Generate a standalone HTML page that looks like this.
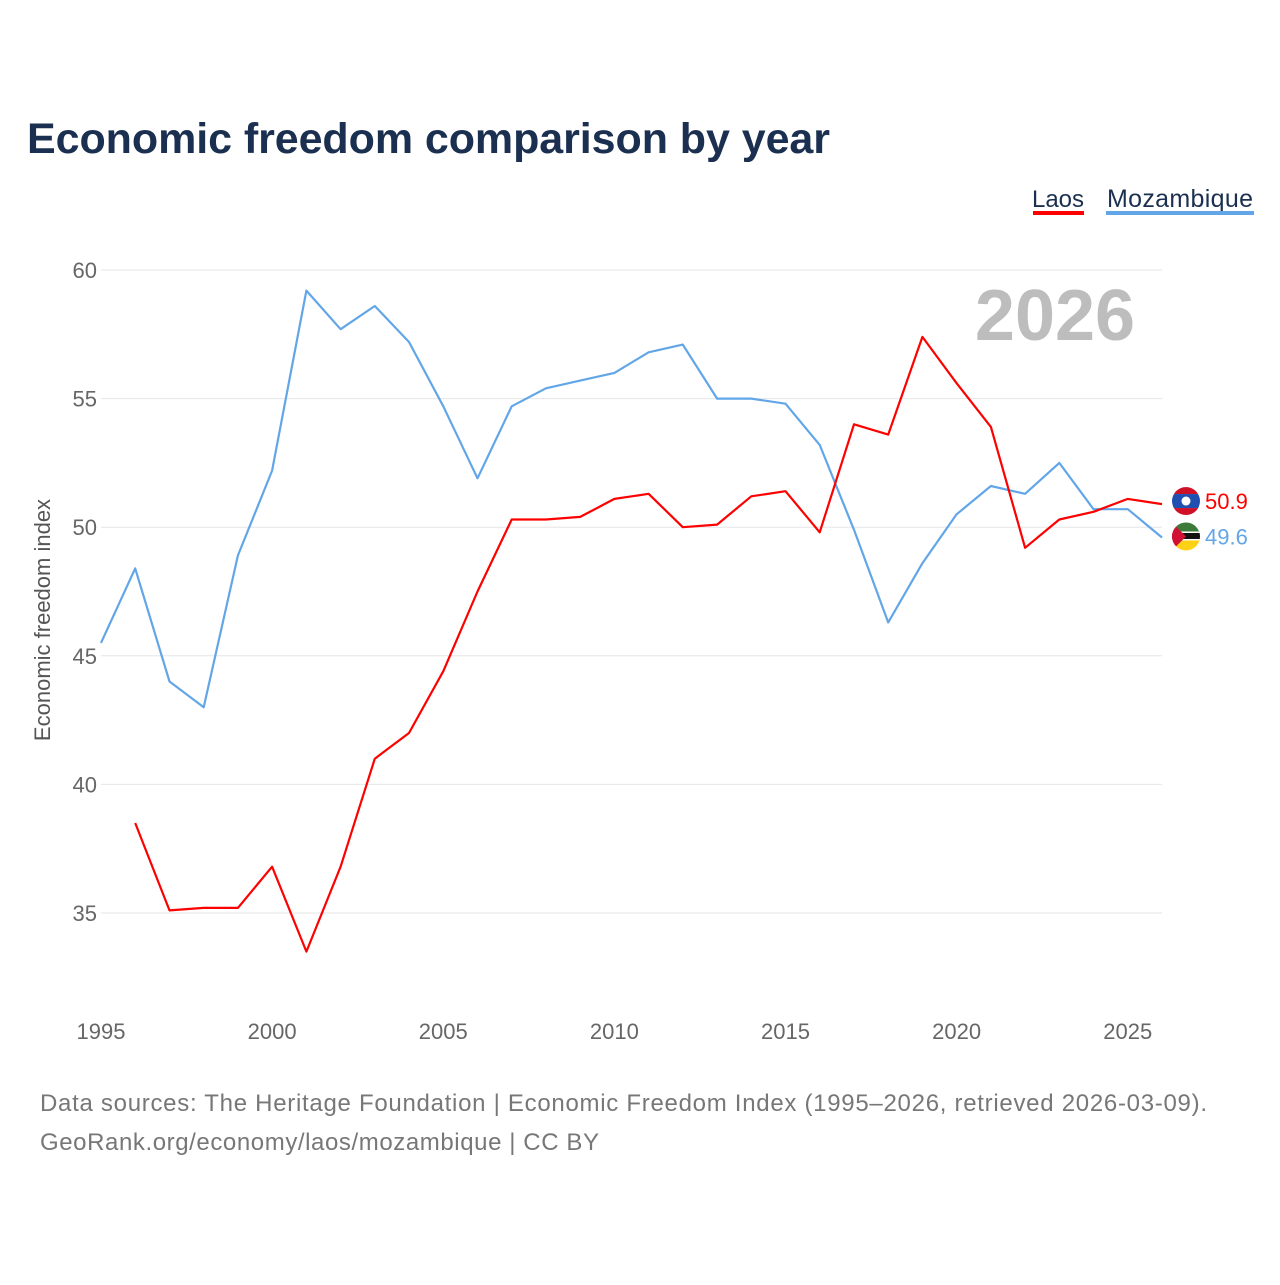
<!DOCTYPE html>
<html><head><meta charset="utf-8">
<style>
body{margin:0;background:#fff;font-family:"Liberation Sans",sans-serif;}
svg text{font-family:"Liberation Sans",sans-serif;}
</style></head>
<body>
<svg id="chart" width="1280" height="1280" viewBox="0 0 1280 1280">
<defs>
<clipPath id="c1"><circle cx="1186" cy="0" r="14"/></clipPath>
</defs>
<text x="27" y="153" font-size="43" font-weight="bold" fill="#1b3050" textLength="803">Economic freedom comparison by year</text>
<g>
<text x="1058" y="207" font-size="24" fill="#1b3050" text-anchor="middle">Laos</text>
<rect x="1033" y="211" width="51" height="4" fill="#ff0000"/>
<text x="1180" y="207" font-size="25" fill="#1b3050" text-anchor="middle" textLength="146">Mozambique</text>
<rect x="1106" y="211" width="148" height="4" fill="#62a6e8"/>
</g>
<text x="1055" y="340" font-size="72" font-weight="bold" fill="#bdbdbd" text-anchor="middle">2026</text>
<text transform="translate(50,620) rotate(-90)" font-size="22" fill="#555" text-anchor="middle">Economic freedom index</text>
<g id="grid"></g><g id="lines"></g><g id="labels"></g>
<text x="40" y="1111" font-size="24" fill="#777" textLength="1167">Data sources: The Heritage Foundation | Economic Freedom Index (1995–2026, retrieved 2026-03-09).</text>
<text x="40" y="1150" font-size="24" fill="#777" textLength="559">GeoRank.org/economy/laos/mozambique | CC BY</text>
</svg>
<script>
const years=[1995,1996,1997,1998,1999,2000,2001,2002,2003,2004,2005,2006,2007,2008,2009,2010,2011,2012,2013,2014,2015,2016,2017,2018,2019,2020,2021,2022,2023,2024,2025,2026];
const laos=[null,38.5,35.1,35.2,35.2,36.8,33.5,36.8,41.0,42.0,44.4,47.5,50.3,50.3,50.4,51.1,51.3,50.0,50.1,51.2,51.4,49.8,54.0,53.6,57.4,55.6,53.9,49.2,50.3,50.6,51.1,50.9];
const mozambique=[45.5,48.4,44.0,43.0,48.9,52.2,59.2,57.7,58.6,57.2,54.7,51.9,54.7,55.4,55.7,56.0,56.8,57.1,55.0,55.0,54.8,53.2,49.9,46.3,48.6,50.5,51.6,51.3,52.5,50.7,50.7,49.6];
const yTicks=[35,40,45,50,55,60];
const xTicks=[1995,2000,2005,2010,2015,2020,2025];
const NS="http://www.w3.org/2000/svg";
const xS=y=>101+(y-1995)*(1162-101)/31;
const yS=v=>270+(60-v)*(913-270)/25;
function mk(t,a,p){const e=document.createElementNS(NS,t);for(const k in a)e.setAttribute(k,a[k]);p.appendChild(e);return e;}
const grid=document.getElementById('grid');
yTicks.forEach(v=>{
 const l=mk('line',{x1:101,x2:1162,y1:yS(v),y2:yS(v),stroke:'#e6e6e6','stroke-width':1},grid);
 
 
 const t=mk('text',{x:97,y:yS(v)+8,'font-size':22,fill:'#666','text-anchor':'end'},grid);t.textContent=v;
 
 
});
xTicks.forEach(y=>{
 const t=mk('text',{x:xS(y),y:1039,'font-size':22,fill:'#666','text-anchor':'middle'},grid);t.textContent=y;
 
 
});
const lines=document.getElementById('lines');
function draw(vals,color,name){
 let d='';let pen=false;
 vals.forEach((v,i)=>{if(v==null){pen=false;return;}d+=(pen?'L':'M')+xS(years[i]).toFixed(1)+','+yS(v).toFixed(1);pen=true;});
 const p=mk('path',{d:d,fill:'none',stroke:color,'stroke-width':2.2,'stroke-linejoin':'round'},lines);
 
 
}
draw(mozambique,'#62a6e8','mozambique');
draw(laos,'#ff0000','laos');
const lab=document.getElementById('labels');
function endLabel(vals,color,name,dy,stripes,extra){
 const v=vals[vals.length-1];const y=yS(v)+dy;
 const g=mk('g',{transform:'translate(0,'+y+')','clip-path':'url(#c1)'},lab);
 
 
 stripes.forEach(s=>mk('rect',{x:1172,y:s[0],width:28,height:s[1],fill:s[2]},g));
 extra(g);
 const t=mk('text',{x:1205,y:y+8,'font-size':22,fill:color},lab);t.textContent=v.toFixed(1);
 
 
}
endLabel(laos,'#ff0000','laos',-3,[[-14,7,'#ce1126'],[-7,14,'#1f4fb0'],[7,7,'#ce1126']],g=>mk('circle',{cx:1186,cy:0,r:4.5,fill:'#fff'},g));
endLabel(mozambique,'#62a6e8','mozambique',-1,[[-14,10,'#3b7a3a'],[-4,8,'#111'],[-5,1.5,'#fff'],[2.5,1.5,'#fff'],[4,10,'#fcd116']],g=>mk('polygon',{points:'1172,-14 1186,0 1172,14',fill:'#d21034'},g));
</script>
</body></html>
